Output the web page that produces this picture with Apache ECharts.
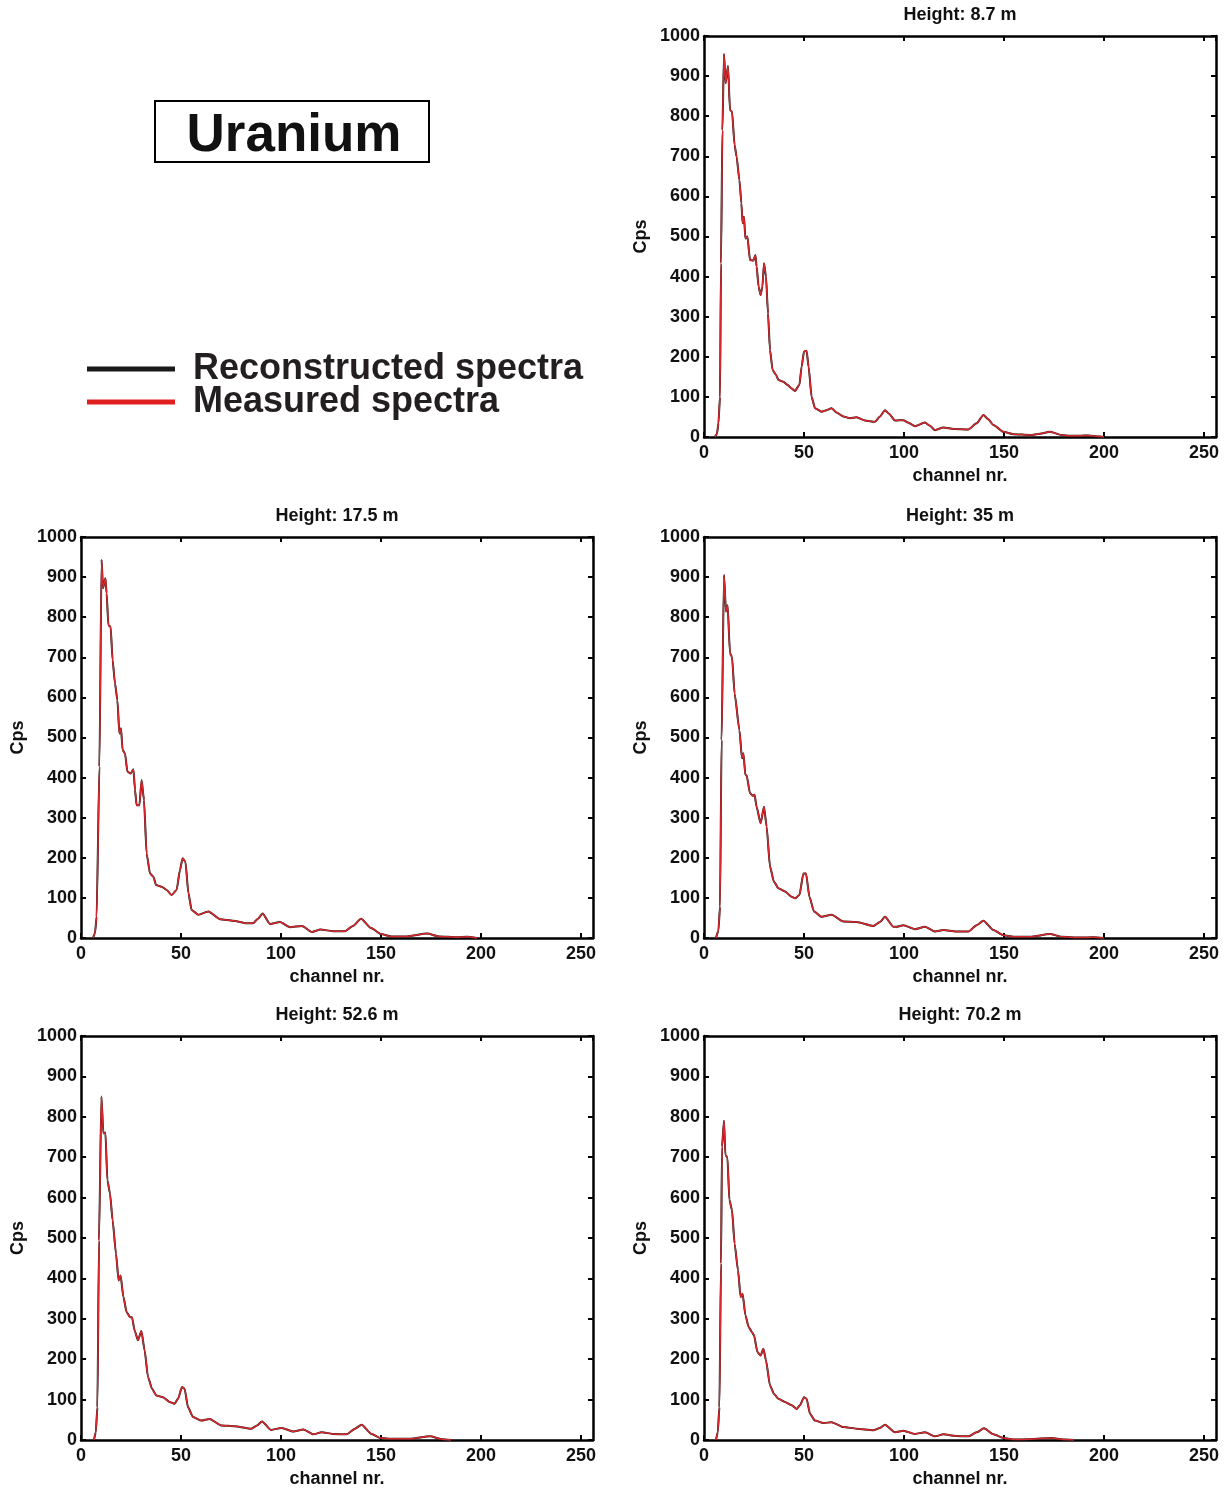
<!DOCTYPE html>
<html><head><meta charset="utf-8">
<script src="https://cdn.jsdelivr.net/npm/echarts@6/dist/echarts.min.js"></script>
<style>html,body{margin:0;padding:0;background:#fff}#c{width:1231px;height:1490px}</style>
</head><body><div id="c"></div>
<script>
// ---- data (channel nr., counts per second) ----
const panelTitles = ['Height: 8.7 m', 'Height: 17.5 m', 'Height: 35 m', 'Height: 52.6 m', 'Height: 70.2 m'];
const seriesNames = ['Reconstructed spectra', 'Measured spectra'];

const ch_8_7 = [5.5,6.5,7.2,8,8.5,9.2,10,10.8,12,13,14,15.3,16.3,17.7,18.7,19.3,20,20.7,21.7,23,24.7,25.7,26.3,27.3,28.3,29.2,30,31,32,33,34.3,36,37.2,39.7,41.7,43.8,45.5,47.7,48.8,50,51.3,52.3,53.8,55.5,58.8,61.3,63.8,66.3,69.7,73,76.3,80.5,85.5,88,90.5,92.5,95.5,99.7,102,105.5,110.5,113,115.5,119.7,125,132.2,136.3,139.7,142,144.7,149.7,154.7,163,168,173,178.8,183,188,192.2,198,200];
const cps_8_7 = [0,8,34,100,433,765,955,882,925,815,812,728,699,641,583,533,549,495,500,441,440,454,425,375,354,375,433,400,308,217,167,155,142,138,130,121,115,130,175,213,215,175,100,72,63,67,72,61,51,47,49,41,38,51,67,58,41,42,36,27,36,28,17,24,20,19,34,55,45,30,13,7,5,8,13,5,3,3,4,1,0];

const ch_17_5 = [6,7,7.8,9.2,10.3,11,12.2,12.8,13.7,14.8,15.8,17,18.2,19.2,20,20.8,22,23.2,24.8,26.2,27,27.8,29.2,30.3,31.5,32.8,34.5,36.2,37.5,40.3,42.8,45.3,47.8,49.5,50.8,52.2,53.7,55.3,58.6,63.7,69.5,76.2,82.8,86,88.5,90.8,94.5,99.5,104.5,110.5,115.5,119.7,126,132,136,140,145,150,155,163,173,179,188,193,198];
const cps_17_5 = [0,12,53,427,943,872,897,860,780,776,693,635,593,510,523,469,460,415,410,421,370,331,331,394,344,211,161,153,132,128,120,107,120,170,199,190,112,70,58,66,47,43,37,37,48,61,35,40,27,30,15,21,17,17,30,48,25,10,4,4,11,4,2,3,0];

const ch_35 = [6,7.2,8,8.8,10,11,11.8,13,14,15.3,17.7,19,19.7,20.7,21.3,23,24.3,25.3,26.3,28.3,30,31.3,33,35,37.2,40.5,43.8,45.5,47.7,49.7,51,52.7,55,58.8,63.8,69.7,76.3,84.7,88,90.5,94.7,96.3,99.7,105.5,110.5,115.5,119.7,126,132.2,136.3,139.7,144.7,149.7,154.7,163,173,178.8,188,194.7,200];
const cps_35 = [0,18,78,494,905,814,830,710,701,610,519,448,461,406,406,361,355,357,327,286,327,278,178,140,124,116,103,99,107,161,161,103,66,53,58,41,40,30,40,53,28,28,32,22,28,16,20,16,16,32,43,20,7,3,3,10,3,1,2,0];

const ch_52_6 = [6.5,7.4,8.2,9,10.2,11.2,12.2,13.2,14.5,15.8,17.5,18.8,19.8,21.2,22.8,24.5,25.5,26.8,28.5,30.2,31.8,33.5,35.5,37.7,41,44.3,46.8,48.5,50.5,51.8,53.5,56,60.2,64.3,70.2,76.8,85.2,88,90.5,95,100.3,106.2,111.2,116.2,120.3,126,132.8,137,140.3,145.3,149.5,156,164.5,174.5,180.3,185];
const cps_52_6 = [0,20,81,494,850,759,761,643,610,544,461,395,407,354,317,304,304,271,247,270,222,156,127,110,106,94,90,102,131,127,81,57,48,52,36,34,28,36,46,25,30,21,26,14,19,15,14,28,38,15,5,3,3,9,2,0];

const ch_70_2 = [6,6.9,7.7,8.5,9,10,10.7,11.7,12.7,14,15.3,17,18.3,19.3,20.7,22.3,24,25,26.7,28.3,29.7,31,33,35,37.2,40.5,43.8,46.3,48,50,51.3,53,55.5,59.7,63.8,69.7,76.3,84.7,88,90.5,95.5,99.7,105.5,110.5,115.5,119.7,126,132.2,136.3,140,144.7,149.7,154.7,163,173.8,179.7,185];
const cps_70_2 = [0,20,81,437,726,790,705,700,594,569,486,420,354,362,309,280,267,259,218,209,226,197,135,114,102,94,86,77,86,106,102,65,48,42,44,32,28,24,30,38,19,23,15,19,9,14,10,9,19,29,14,5,1,2,5,1,0];

const xTickValues = [0, 50, 100, 150, 200, 250];

// reconstructed spectra coincide with the measured ones at this scale
const panels = [
  {ch: ch_8_7,  meas: cps_8_7,  rec: cps_8_7},
  {ch: ch_17_5, meas: cps_17_5, rec: cps_17_5},
  {ch: ch_35,   meas: cps_35,   rec: cps_35},
  {ch: ch_52_6, meas: cps_52_6, rec: cps_52_6},
  {ch: ch_70_2, meas: cps_70_2, rec: cps_70_2}
];

// ---- layout ----
const FONT = '"Liberation Sans", Arial, Helvetica, sans-serif';
const grids = [
  {left: 704, top: 36,   width: 512, height: 401},
  {left: 81,  top: 537,  width: 512, height: 401},
  {left: 704, top: 537,  width: 512, height: 401},
  {left: 81,  top: 1036, width: 512, height: 404},
  {left: 704, top: 1036, width: 512, height: 404}
];
const RED = '#d8282d', BLACK = '#1a1a1a';

const xAxes = [], yAxes = [], series = [], graphics = [];
const axisLine = {show: true, onZero: false, lineStyle: {color: '#000', width: 2.5}};
const tick = {show: true, inside: true, length: 5, lineStyle: {color: '#000', width: 2}};
const lbl = {color: '#111', fontSize: 18, fontWeight: 'bold', fontFamily: FONT};

grids.forEach((g, i) => {
  xAxes.push({
    gridIndex: i, type: 'value', position: 'bottom', min: 0, max: 256, interval: 50,
    axisLine, axisTick: tick, splitLine: {show: false},
    axisLabel: Object.assign({margin: 7, showMaxLabel: false,
      formatter: v => xTickValues.includes(v) ? String(v) : ''}, lbl),
    name: 'channel nr.', nameLocation: 'middle', nameGap: 30,
    nameTextStyle: Object.assign({}, lbl)
  });
  xAxes.push({
    gridIndex: i, type: 'value', position: 'top', min: 0, max: 256, interval: 50,
    axisLine, axisTick: tick, splitLine: {show: false}, axisLabel: {show: false}
  });
  yAxes.push({
    gridIndex: i, type: 'value', position: 'left', min: 0, max: 1000, interval: 100,
    axisLine, axisTick: tick, splitLine: {show: false},
    axisLabel: Object.assign({margin: 4, formatter: v => String(v)}, lbl),
    name: 'Cps', nameLocation: 'middle', nameGap: 54,
    nameTextStyle: Object.assign({}, lbl)
  });
  yAxes.push({
    gridIndex: i, type: 'value', position: 'right', min: 0, max: 1000, interval: 100,
    axisLine, axisTick: tick, splitLine: {show: false}, axisLabel: {show: false}
  });

  const p = panels[i];
  series.push({
    name: seriesNames[0], type: 'line', xAxisIndex: 2 * i, yAxisIndex: 2 * i,
    data: p.ch.map((c, k) => [c, p.rec[k]]), showSymbol: false, symbol: 'none',
    smooth: 0.2, smoothMonotone: 'x',
    color: BLACK, itemStyle: {color: BLACK}, lineStyle: {color: BLACK, width: 2}, z: 2, silent: true
  });
  series.push({
    name: seriesNames[1], type: 'line', xAxisIndex: 2 * i, yAxisIndex: 2 * i,
    data: p.ch.map((c, k) => [c, p.meas[k]]), showSymbol: false, symbol: 'none',
    smooth: 0.2, smoothMonotone: 'x',
    color: RED, itemStyle: {color: RED}, lineStyle: {color: RED, width: 1.5}, z: 3, silent: true
  });

  graphics.push({
    type: 'text', x: g.left + g.width / 2, y: g.top - 21,
    style: {text: panelTitles[i], fill: '#111', font: 'bold 18px ' + FONT,
      textAlign: 'center', textVerticalAlign: 'middle'}
  });
});

// "Uranium" box
graphics.push({
  type: 'rect', shape: {x: 155, y: 101, width: 274, height: 61},
  style: {fill: '#fff', stroke: '#000', lineWidth: 2}
});
graphics.push({
  type: 'text', x: 294, y: 136,
  style: {text: 'Uranium', fill: '#111', font: 'bold 53px ' + FONT,
    textAlign: 'center', textVerticalAlign: 'middle'}
});

const chart = echarts.init(document.getElementById('c'), null, {renderer: 'canvas'});
chart.setOption({
  animation: false,
  backgroundColor: '#fff',
  grid: grids.map(g => Object.assign({containLabel: false}, g)),
  xAxis: xAxes,
  yAxis: yAxes,
  series,
  legend: {
    data: [
      {name: seriesNames[0], icon: 'rect', itemStyle: {color: BLACK}},
      {name: seriesNames[1], icon: 'rect', itemStyle: {color: '#e0201f'}}
    ],
    orient: 'vertical', left: 82, top: 346, itemWidth: 88, itemHeight: 5, itemGap: -3,
    selectedMode: false,
    textStyle: {fontSize: 36, fontWeight: 'bold', color: '#231f20', fontFamily: FONT,
      lineHeight: 32, padding: [0, 0, 0, 13]}
  },
  graphic: graphics
});
</script>
</body></html>
